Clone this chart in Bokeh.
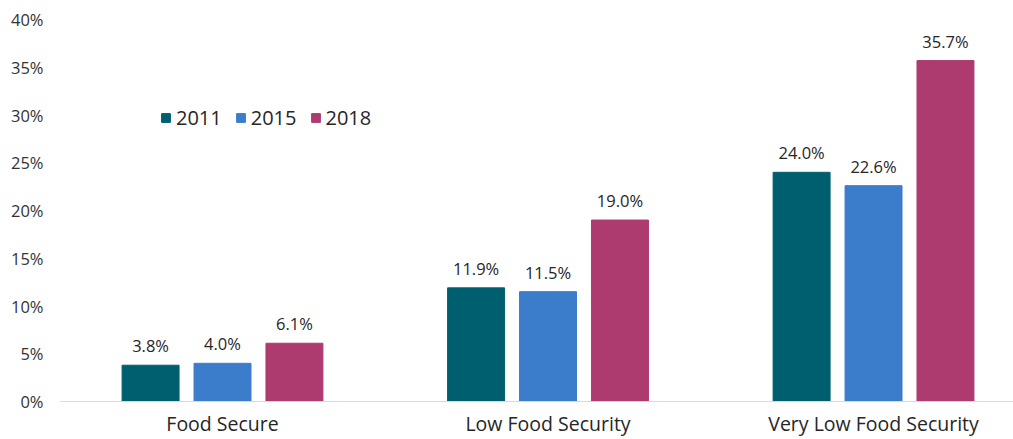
import numpy as np
from bokeh.plotting import figure
from bokeh.models import ColumnDataSource, FixedTicker, Legend, LegendItem, Range1d
from bokeh.transform import dodge
from bokeh.core.properties import value
from bokeh.embed import file_html
from bokeh.resources import INLINE

categories = ["Food Secure", "Low Food Security", "Very Low Food Security"]
years = ["2011", "2015", "2018"]
v2011 = [3.8, 11.9, 24.0]
v2015 = [4.0, 11.5, 22.6]
v2018 = [6.1, 19.0, 35.7]
colors = ["#005F6E", "#3B7DCB", "#AE3B6F"]
y_ticks = [0, 5, 10, 15, 20, 25, 30, 35, 40]

FONT = "Open Sans"
pos = list(range(len(categories)))
src = ColumnDataSource(dict(
    pos=pos,
    v2011=v2011, v2015=v2015, v2018=v2018,
    l2011=[f"{v:.1f}%" for v in v2011],
    l2015=[f"{v:.1f}%" for v in v2015],
    l2018=[f"{v:.1f}%" for v in v2018],
))

p = figure(width=1013, height=439, output_backend="svg", toolbar_location=None,
           x_range=Range1d(-0.4977, 2.430), y_range=Range1d(0, 40),
           min_border_left=60, min_border_right=0, min_border_top=19, min_border_bottom=37)
p.outline_line_color = None
p.xgrid.grid_line_color = None
p.ygrid.grid_line_color = None
p.background_fill_color = "white"
p.border_fill_color = "white"

offsets = [-0.221, 0.0, 0.221]
renderers = []
for yr, col, off in zip(years, colors, offsets):
    r = p.vbar(x=dodge("pos", off, range=p.x_range), top="v" + yr, width=0.175,
               source=src, fill_color=col, line_color=col)
    renderers.append(r)
    p.text(x=dodge("pos", off, range=p.x_range), y="v" + yr, text="l" + yr, source=src,
           text_align="center", text_baseline="bottom", y_offset=-8,
           text_font=value(FONT), text_font_size="16.5px", text_color="#262626")

# axes
p.yaxis.ticker = FixedTicker(ticks=y_ticks)
p.yaxis.major_label_overrides = {t: f"{t}%" for t in y_ticks}
p.yaxis.axis_line_color = None
p.yaxis.major_tick_line_color = None
p.yaxis.major_tick_out = 0
p.yaxis.major_tick_in = 0
p.yaxis.minor_tick_line_color = None
p.yaxis.major_label_standoff = 17
p.yaxis.major_label_text_font = FONT
p.yaxis.major_label_text_font_size = "16.5px"
p.yaxis.major_label_text_color = "#333333"

p.xaxis.ticker = FixedTicker(ticks=pos)
p.xaxis.major_label_overrides = {i: c for i, c in zip(pos, categories)}
p.xaxis.axis_line_color = "#d9d9d9"
p.xaxis.axis_line_width = 1
p.xaxis.major_tick_line_color = None
p.xaxis.major_tick_out = 0
p.xaxis.major_tick_in = 0
p.xaxis.minor_tick_line_color = None
p.xaxis.major_label_standoff = 8
p.xaxis.major_label_text_font = FONT
p.xaxis.major_label_text_font_size = "19.5px"
p.xaxis.major_label_text_color = "#262626"

legend = Legend(items=[LegendItem(label=yr, renderers=[r]) for yr, r in zip(years, renderers)],
                orientation="horizontal", location=(100, 270),
                glyph_width=11, glyph_height=11, label_standoff=5, spacing=13,
                padding=0, margin=0, border_line_color=None, background_fill_alpha=0,
                label_text_font=FONT, label_text_font_size="20px", label_text_color="#262626")
p.add_layout(legend)

open("out.html", "w").write(file_html(p, INLINE))
